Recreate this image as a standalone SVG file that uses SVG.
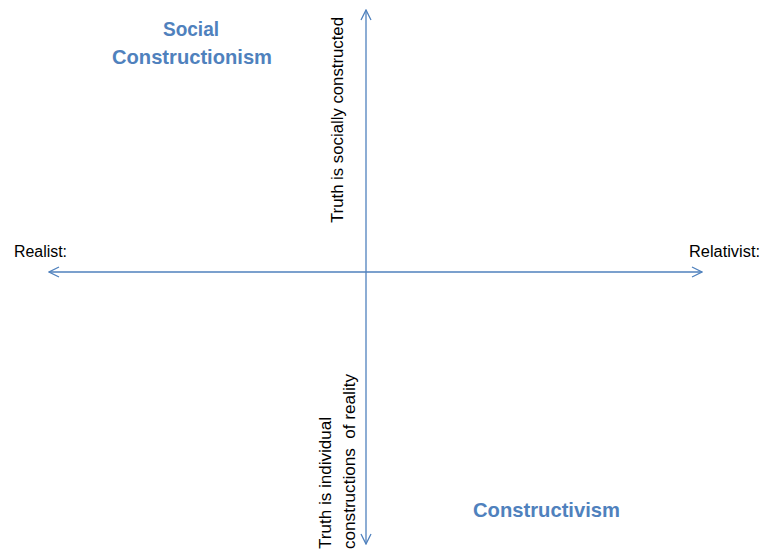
<svg xmlns="http://www.w3.org/2000/svg" width="762" height="551" viewBox="0 0 762 551">
<style>
.ax{stroke:#4F81BD;stroke-width:1.3;fill:none}
.t{font-family:"Liberation Sans",Arial,sans-serif;font-size:16px;fill:#000}
.h{font-family:"Liberation Sans",Arial,sans-serif;font-size:21px;font-weight:bold;fill:#4F81BD}
</style>
<defs>
<marker id="arr" viewBox="0 0 12 12" refX="11" refY="6" markerWidth="12" markerHeight="12" markerUnits="userSpaceOnUse" orient="auto-start-reverse">
<path d="M1,1 L11,6 L1,11" fill="none" stroke="#4F81BD" stroke-width="1.3"/>
</marker>
</defs>
<rect width="762" height="551" fill="#fff"/>
<g id="connectors">
<line class="ax" x1="366" y1="544" x2="366" y2="10" marker-start="url(#arr)" marker-end="url(#arr)"/>
<line class="ax" x1="49" y1="272" x2="702" y2="272" marker-start="url(#arr)" marker-end="url(#arr)"/>
</g>
<g id="social-constructionism">
<text class="h" x="191" y="36" text-anchor="middle" textLength="56" lengthAdjust="spacingAndGlyphs">Social</text>
<text class="h" x="192" y="64" text-anchor="middle" textLength="160" lengthAdjust="spacingAndGlyphs">Constructionism</text>
</g>
<g id="constructivism">
<text class="h" x="473" y="517" textLength="147" lengthAdjust="spacingAndGlyphs">Constructivism</text>
</g>
<g id="realist">
<text class="t" x="14" y="257" textLength="53" lengthAdjust="spacingAndGlyphs">Realist:</text>
</g>
<g id="relativist">
<text class="t" x="689" y="257" textLength="71" lengthAdjust="spacingAndGlyphs">Relativist:</text>
</g>
<g id="truth-social">
<text class="t" transform="translate(343,223) rotate(-90)" textLength="206" lengthAdjust="spacingAndGlyphs">Truth is socially constructed</text>
</g>
<g id="truth-individual">
<text class="t" transform="translate(331,549) rotate(-90)" textLength="132" lengthAdjust="spacingAndGlyphs">Truth is individual</text>
<text class="t" transform="translate(355,549) rotate(-90)" textLength="175" lengthAdjust="spacingAndGlyphs" xml:space="preserve">constructions  of reality</text>
</g>
</svg>
